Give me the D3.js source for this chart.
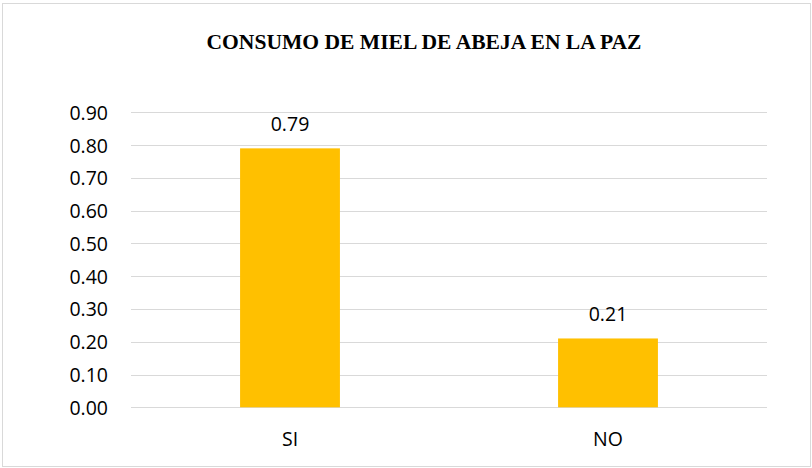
<!DOCTYPE html>
<html lang="es">
<head>
  <meta charset="utf-8">
  <title>Consumo de miel de abeja en La Paz</title>
  <script src="https://cdn.jsdelivr.net/npm/d3@7/dist/d3.min.js"></script>
  <style>
    * { margin: 0; padding: 0; }
    body { background: #fff; overflow: hidden; }
    svg { display: block; }
  </style>
</head>
<body>
  <svg id="chart"></svg>
  <script>
    const categories = ['SI', 'NO']
    const values = [0.79, 0.21]
    const yTicks = [0, 0.1, 0.2, 0.3, 0.4, 0.5, 0.6, 0.7, 0.8, 0.9]
    const title = 'CONSUMO DE MIEL DE ABEJA EN LA PAZ'

    const W = 812, H = 468
    const plot = { left: 131, right: 767, top: 112.3, bottom: 407.3 }
    const labelFont = '"Open Sans", "Noto Sans", sans-serif'
    const labelSize = 19.5

    const svg = d3.select('#chart').attr('width', W).attr('height', H)

    // outer border
    svg.append('rect')
      .attr('x', 2.5).attr('y', 3.5)
      .attr('width', 808).attr('height', 463)
      .attr('fill', '#fff').attr('stroke', '#d9d9d9').attr('stroke-width', 1)

    const x = d3.scaleBand()
      .domain(categories)
      .range([plot.left, plot.right])
      .paddingInner(0.686).paddingOuter(0.343)

    const y = d3.scaleLinear().domain([0, 0.9]).range([plot.bottom, plot.top])

    // gridlines
    svg.append('g')
      .selectAll('line')
      .data(yTicks)
      .join('line')
      .attr('x1', plot.left).attr('x2', plot.right)
      .attr('y1', d => Math.round(y(d)) + 0.5).attr('y2', d => Math.round(y(d)) + 0.5)
      .attr('stroke', '#d9d9d9').attr('stroke-width', 1)

    // y axis labels
    const yAxis = d3.axisLeft(y).tickValues(yTicks).tickFormat(d3.format('.2f')).tickSize(0).tickPadding(0)
    const yg = svg.append('g').attr('transform', 'translate(108,0)').call(yAxis)
    yg.select('.domain').remove()
    yg.selectAll('text')
      .attr('font-family', labelFont).attr('font-size', labelSize).attr('fill', '#000')
      .attr('dy', '0.36em')

    // bars
    svg.append('g')
      .selectAll('rect')
      .data(values)
      .join('rect')
      .attr('x', (d, i) => x(categories[i]))
      .attr('width', x.bandwidth())
      .attr('y', d => y(d))
      .attr('height', d => y(0) - y(d))
      .attr('fill', '#ffc000')

    // value labels
    svg.append('g')
      .selectAll('text')
      .data(values)
      .join('text')
      .attr('x', (d, i) => x(categories[i]) + x.bandwidth() / 2)
      .attr('y', d => y(d) - 17)
      .attr('text-anchor', 'middle')
      .attr('font-family', labelFont).attr('font-size', labelSize).attr('fill', '#000')
      .text(d => d3.format('.2f')(d))

    // category labels
    const xAxis = d3.axisBottom(x).tickSize(0).tickPadding(0)
    const xg = svg.append('g').attr('transform', 'translate(0,' + plot.bottom + ')').call(xAxis)
    xg.select('.domain').remove()
    xg.selectAll('text')
      .attr('font-family', labelFont).attr('font-size', labelSize).attr('fill', '#000')
      .attr('dy', null).attr('y', 39)

    // title
    svg.append('text')
      .attr('x', 424).attr('y', 49.3)
      .attr('text-anchor', 'middle')
      .attr('font-family', '"Liberation Serif", "DejaVu Serif", serif')
      .attr('font-weight', 'bold').attr('font-size', 21)
      .attr('textLength', 435).attr('lengthAdjust', 'spacingAndGlyphs')
      .text(title)
  </script>
</body>
</html>
